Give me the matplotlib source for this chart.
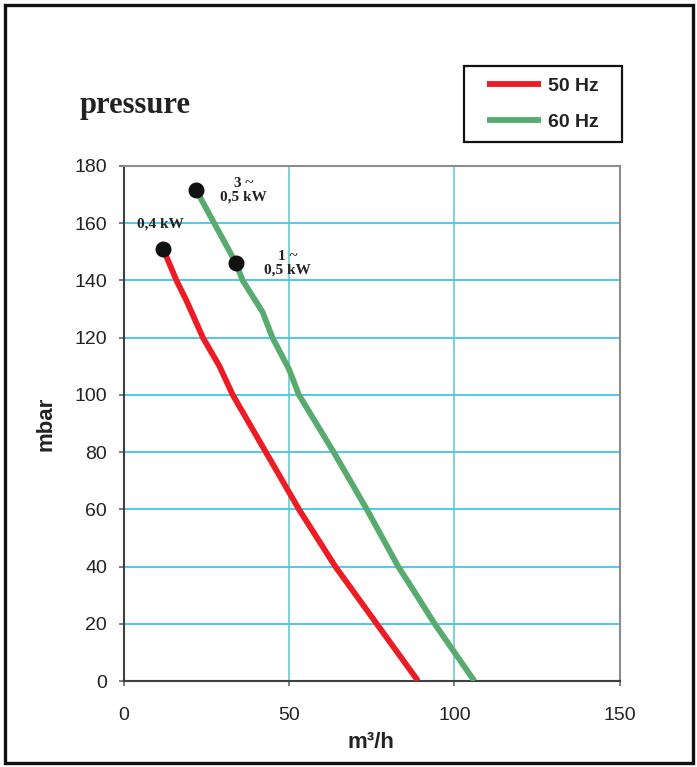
import matplotlib
matplotlib.use("Agg")
import matplotlib.pyplot as plt
from matplotlib.patches import Rectangle

# ---- data ----
red_x = [12, 16, 19, 24, 29, 33, 43, 53, 64, 76.5, 89]
red_y = [151, 140, 133, 120, 110, 100, 80, 60, 40, 20, 0]
green_x = [22, 34, 36, 42, 45, 50, 53, 63.5, 73.5, 83, 88, 94, 106]
green_y = [171.5, 146, 140, 129, 120, 109, 100, 80, 60, 40, 31, 20, 0]
series_labels = ["50 Hz", "60 Hz"]
x_ticks = [0, 50, 100, 150]
y_ticks = [0, 20, 40, 60, 80, 100, 120, 140, 160, 180]
title_text = "pressure"
xlabel_text = "m³/h"
ylabel_text = "mbar"
point_labels = ["0,4 kW", "3 ~\n0,5 kW", "1 ~\n0,5 kW"]

W, H = 697, 767
fig = plt.figure(figsize=(W / 100, H / 100), dpi=100)
fig.patch.set_facecolor("white")
ax = fig.add_axes([123.5 / W, 1 - 681 / H, (620 - 123.5) / W, (681 - 166) / H])

RED = "#ED1C24"
GREEN = "#57AB6E"

ax.set_xlim(0, 150)
ax.set_ylim(0, 180)
ax.set_xticks(x_ticks)
ax.set_yticks(y_ticks)

for y in y_ticks[1:-1]:
    ax.axhline(y, color="#3FC6EA", lw=1.3, zorder=1)
for x in x_ticks[1:-1]:
    ax.axvline(x, color="#5CC6CC", lw=1.1, zorder=1)

l1, = ax.plot(red_x, red_y, color=RED, lw=4.2, solid_capstyle="butt",
              solid_joinstyle="round", zorder=3)
l2, = ax.plot(green_x, green_y, color=GREEN, lw=4.2, solid_capstyle="butt",
              solid_joinstyle="round", zorder=3)

ax.plot([red_x[0]], [red_y[0]], "o", color="#111111", ms=10.5, zorder=5)
ax.plot([green_x[0], green_x[1]], [green_y[0], green_y[1]], "o", color="#111111",
        ms=10.5, ls="none", zorder=5)

tfont = dict(family="Liberation Serif", fontweight="bold", fontsize=11,
             color="#222222", ha="center", va="center", linespacing=1.0)
ax.annotate(point_labels[0], (red_x[0], red_y[0]), xytext=(-2, 18),
            textcoords="offset points", **tfont)
ax.annotate(point_labels[1], (green_x[0], green_y[0]), xytext=(34, 0),
            textcoords="offset points", **tfont)
ax.annotate(point_labels[2], (green_x[1], green_y[1]), xytext=(37, 0),
            textcoords="offset points", **tfont)

for s in ["top", "right"]:
    ax.spines[s].set_color("#8C8C8C")
    ax.spines[s].set_linewidth(1.5)
for s in ["left", "bottom"]:
    ax.spines[s].set_color("#404040")
    ax.spines[s].set_linewidth(1.5)

ax.tick_params(axis="both", direction="out", length=3.8, width=1.2, color="#666666",
               labelsize=14, labelcolor="#222222")
ax.tick_params(axis="x", pad=15)
ax.tick_params(axis="y", pad=8)
for lab in ax.get_xticklabels() + ax.get_yticklabels():
    lab.set_family("Liberation Sans")

fig.text(46 / W, 1 - 423.5 / H, ylabel_text, rotation=90, ha="center", va="center",
         family="Liberation Sans", fontweight="bold", fontsize=16, color="#222222")
fig.text(371 / W, 1 - 742 / H, xlabel_text, ha="center", va="center",
         family="Liberation Sans", fontweight="bold", fontsize=16, color="#222222")
fig.text(135 / W, 1 - 113 / H, title_text, ha="center", va="baseline",
         family="Liberation Serif", fontweight="bold", fontsize=22, color="#222222")

leg = fig.legend([l1, l2], series_labels, loc="upper left",
                 bbox_to_anchor=(487 / W, 1 - 77 / H), frameon=False,
                 prop=dict(family="Liberation Sans", weight="bold", size=14),
                 handlelength=2.8, handletextpad=0.35, labelspacing=0.95,
                 borderpad=0, borderaxespad=0)
for t in leg.get_texts():
    t.set_color("#222222")

fig.patches.append(Rectangle((464 / W, 1 - 142 / H), (622 - 464) / W, (142 - 66) / H,
                             transform=fig.transFigure, fill=False, ec="#111111", lw=1.6))
fig.patches.append(Rectangle((4.5 / W, 4.5 / H), (W - 9) / W, (H - 9) / H,
                             transform=fig.transFigure, fill=False, ec="#111111", lw=2.4))

fig.savefig("out.png", dpi=100)
